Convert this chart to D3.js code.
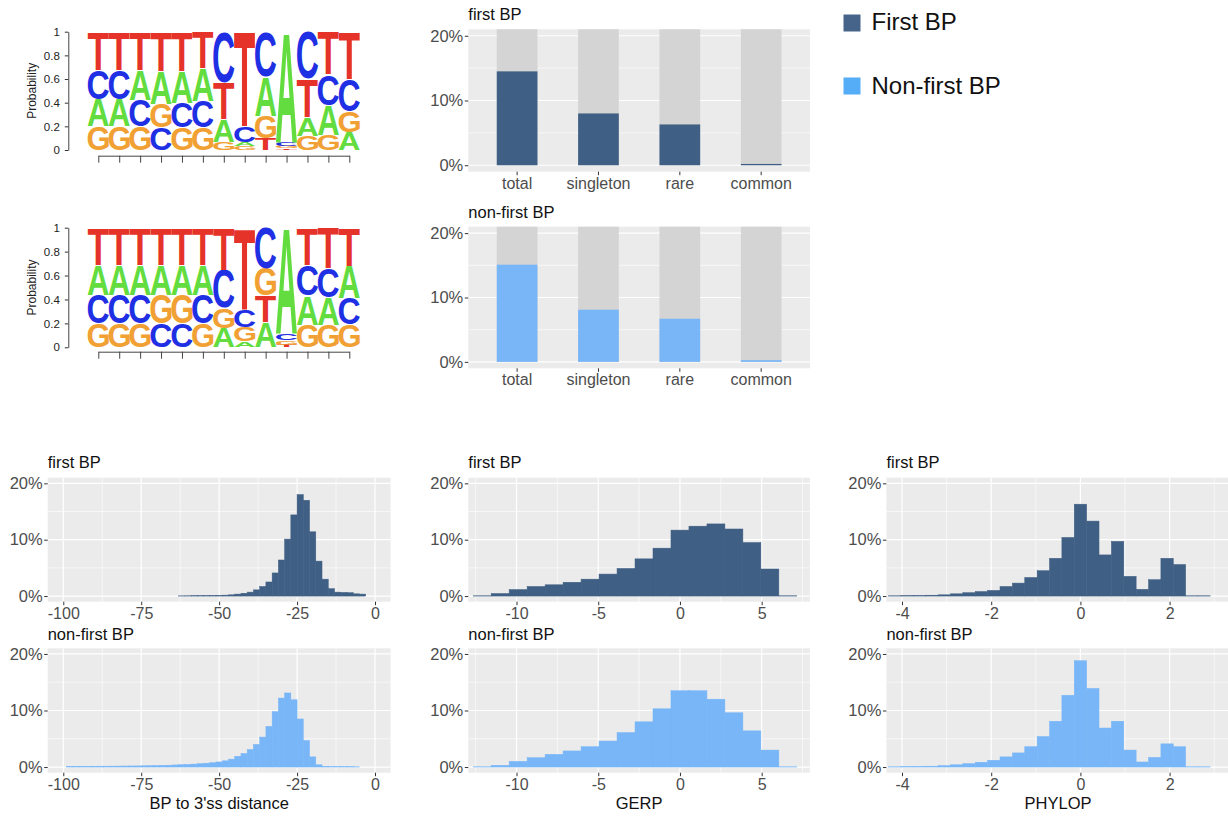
<!DOCTYPE html>
<html>
<head>
<meta charset="utf-8">
<script src="https://cdn.jsdelivr.net/npm/d3@7"></script>
<style>
  html, body { margin: 0; padding: 0; background: #ffffff; }
  svg { display: block; }
</style>
</head>
<body>
<svg id="fig" width="1228" height="817"></svg>
<script>
// ---------------------------------------------------------------
// Data
// ---------------------------------------------------------------
const nucleotides = ["A", "C", "G", "T"];
const logoPositions = [1, 2, 3, 4, 5, 6, 7, 8, 9, 10, 11, 12, 13];
const logoTicks = [0, 0.2, 0.4, 0.6, 0.8, 1];

// position probability matrix, first BP
const firstLogoA = [0.23, 0.23, 0.26, 0.28, 0.27, 0.28, 0.19, 0.04, 0.33, 0.93, 0.16, 0.25, 0.15];
const firstLogoC = [0.25, 0.25, 0.22, 0.19, 0.21, 0.22, 0.43, 0.13, 0.38, 0.035, 0.40, 0.26, 0.27];
const firstLogoG = [0.20, 0.20, 0.20, 0.20, 0.19, 0.19, 0.07, 0.03, 0.19, 0.02, 0.12, 0.13, 0.18];
const firstLogoT = [0.32, 0.32, 0.32, 0.33, 0.33, 0.31, 0.31, 0.80, 0.10, 0.015, 0.32, 0.36, 0.40];

// position probability matrix, non-first BP
const nonFirstLogoA = [0.25, 0.25, 0.25, 0.25, 0.25, 0.25, 0.16, 0.05, 0.21, 0.88, 0.24, 0.23, 0.27];
const nonFirstLogoC = [0.24, 0.24, 0.24, 0.20, 0.20, 0.24, 0.32, 0.15, 0.34, 0.06, 0.26, 0.24, 0.22];
const nonFirstLogoG = [0.20, 0.20, 0.20, 0.24, 0.24, 0.20, 0.17, 0.12, 0.23, 0.04, 0.19, 0.19, 0.19];
const nonFirstLogoT = [0.31, 0.31, 0.31, 0.31, 0.31, 0.31, 0.35, 0.68, 0.22, 0.02, 0.31, 0.34, 0.32];

// variant share per class (%)
const variantClasses = ["total", "singleton", "rare", "common"];
const firstBpShare = [14.5, 8.0, 6.3, 0.2];
const nonFirstBpShare = [15.1, 8.1, 6.7, 0.26];
const shareTrack = [21, 21, 21, 21];
const shareTicks = [0, 10, 20];

// BP to 3'ss distance histograms (% per bin)
const distBinStart = -99, distBinWidth = 2;
const distTicks = [-100, -75, -50, -25, 0];
const distFirst = [
  0, 0, 0, 0, 0, 0, 0, 0, 0, 0, 0, 0, 0, 0, 0, 0, 0, 0,
  0.04, 0.05, 0.06, 0.07, 0.09, 0.1, 0.12, 0.16, 0.22, 0.35,
  0.5, 0.7, 1.1, 1.7, 2.5, 4.1, 6.4, 10.1, 14.4, 18.0,
  17.0, 11.4, 6.2, 3.0, 1.3, 0.7, 0.65, 0.6, 0.4, 0.35
];
const distNonFirst = [
  0.12, 0.12, 0.13, 0.13, 0.14, 0.15, 0.15, 0.16, 0.17, 0.18,
  0.19, 0.2, 0.22, 0.24, 0.27, 0.3, 0.33, 0.37, 0.42, 0.47,
  0.52, 0.6, 0.68, 0.78, 0.9, 1.1, 1.4, 1.9, 2.4, 3.1,
  4.0, 5.3, 7.2, 9.8, 12.2, 13.1, 11.9, 8.5, 4.7, 1.8,
  0.4, 0.12, 0.07, 0.07, 0.06, 0.06, 0.05, 0
];

// GERP histograms (% per bin)
const gerpBinStart = -12.65, gerpBinWidth = 1.1;
const gerpTicks = [-10, -5, 0, 5];
const gerpFirst = [0.05, 0.45, 1.15, 1.7, 2.0, 2.45, 3.0, 3.9, 4.9, 6.6, 8.5, 11.7, 12.4, 12.8, 11.9, 9.5, 4.8, 0.05];
const gerpNonFirst = [0.05, 0.3, 1.0, 1.65, 2.25, 2.85, 3.6, 4.6, 6.1, 8.0, 10.3, 13.5, 13.5, 12.0, 9.6, 6.4, 3.0, 0.05];

// PHYLOP histograms (% per bin)
const phylopBinStart = -4.30, phylopBinWidth = 0.2775;
const phylopTicks = [-4, -2, 0, 2];
const phylopFirst = [0.05, 0.08, 0.1, 0.15, 0.22, 0.4, 0.6, 0.8, 1.0, 1.7, 2.3, 3.3, 4.5, 6.7, 10.4, 16.3, 13.3, 7.3, 9.7, 3.5, 1.2, 2.9, 6.7, 5.6, 0.05, 0.05];
const phylopNonFirst = [0.05, 0.08, 0.1, 0.15, 0.25, 0.4, 0.6, 0.85, 1.2, 1.8, 2.5, 3.6, 5.4, 8.1, 12.7, 18.8, 13.9, 6.9, 8.1, 3.0, 0.9, 1.7, 4.1, 3.6, 0.05, 0.05];

const percentTicks = [0, 10, 20];

// ---------------------------------------------------------------
// Styling
// ---------------------------------------------------------------
const FONT = "'Liberation Sans', Arial, Helvetica, sans-serif";
const darkFill = "#3f5f84";
const lightFill = "#78b6f7";
const panelBg = "#ebebeb";
const trackFill = "#d4d4d4";
const tickColor = "#333333";
const tickTextColor = "#4d4d4d";
const titleSize = 16.5;
const nucleotideColor = { A: "#62dc3e", C: "#1f2fe3", G: "#f1a034", T: "#e5332a" };
const shareDomain = [-1, 21];

const svg = d3.select("#fig");

function styleAxis(g, fontSize, keepDomain) {
  g.attr("font-family", FONT).attr("font-size", fontSize);
  if (!keepDomain) g.select(".domain").remove();
  g.selectAll(".tick line").attr("stroke", tickColor).attr("stroke-width", 1);
  g.selectAll(".tick text").attr("fill", tickTextColor);
}

function minorBetween(majors, domain) {
  const step = majors[1] - majors[0];
  const out = [];
  for (let v = majors[0] - step / 2; v <= majors[majors.length - 1] + step; v += step) {
    if (v >= Math.min(...domain) && v <= Math.max(...domain)) out.push(v);
  }
  return out;
}

// ---------------------------------------------------------------
// Sequence logos
// ---------------------------------------------------------------
const measureCtx = document.createElement("canvas").getContext("2d");
measureCtx.font = "bold 100px 'Liberation Sans'";
const glyphInk = {};
nucleotides.forEach(n => {
  const m = measureCtx.measureText(n);
  glyphInk[n] = {
    l: -m.actualBoundingBoxLeft,
    r: m.actualBoundingBoxRight,
    t: -m.actualBoundingBoxAscent,
    b: m.actualBoundingBoxDescent
  };
});

function drawLogo(probs, box) {
  const g = svg.append("g");
  const x = d3.scaleLinear().domain([1, 13]).range([box.xFirst, box.xLast]);
  const colW = x(2) - x(1);
  const y = d3.scaleLinear().domain([0, 1]).range([box.yZero, box.yOne]);

  logoPositions.forEach((pos, i) => {
    const stack = nucleotides
      .map(n => ({ n, p: probs[n][i] }))
      .sort((a, b) => a.p - b.p);
    let cum = 0;
    stack.forEach(s => {
      const yb = y(cum);
      let yt = y(cum + s.p);
      cum += s.p;
      if (yb - yt > 1.2) yt += 0.35;
      const h = Math.max(yb - yt, 0.4);
      const w = colW + 0.2;
      const ink = glyphInk[s.n];
      const sx = w / (ink.r - ink.l);
      const sy = h / (ink.b - ink.t);
      const tx = x(pos) - w / 2 - ink.l * sx;
      const ty = (yb - h) - ink.t * sy;
      g.append("text")
        .attr("x", 0).attr("y", 0)
        .attr("transform", `translate(${tx},${ty}) scale(${sx},${sy})`)
        .attr("font-family", "'Liberation Sans'")
        .attr("font-weight", "bold")
        .attr("font-size", 100)
        .attr("fill", nucleotideColor[s.n])
        .text(s.n);
    });
  });

  const yAxis = g.append("g")
    .attr("transform", `translate(${box.yAxisX},0)`)
    .call(d3.axisLeft(y).tickValues(logoTicks).tickFormat(d3.format("~g")).tickSize(3.5).tickPadding(5).tickSizeOuter(0));
  styleAxis(yAxis, 11.5, true);
  yAxis.select(".domain").attr("stroke", "#444");
  yAxis.selectAll(".tick text").attr("fill", "#222");

  const xAxis = g.append("g")
    .attr("transform", `translate(0,${box.xAxisY})`)
    .call(d3.axisBottom(x).tickValues(logoPositions).tickFormat("").tickSize(7).tickSizeOuter(0));
  styleAxis(xAxis, 11.5, true);
  xAxis.select(".domain").attr("stroke", "#444");
  xAxis.selectAll(".tick line").attr("stroke", "#444");

  g.append("text")
    .attr("transform", `translate(${box.labelX},${(box.yZero + box.yOne) / 2}) rotate(-90)`)
    .attr("text-anchor", "middle")
    .attr("font-family", FONT)
    .attr("font-size", 12)
    .attr("fill", "#222")
    .text("Probability");
}

drawLogo(
  { A: firstLogoA, C: firstLogoC, G: firstLogoG, T: firstLogoT },
  { xFirst: 98.3, xLast: 349.3, yZero: 150, yOne: 31.7, yAxisX: 68.3, xAxisY: 155.7, labelX: 36 }
);
drawLogo(
  { A: nonFirstLogoA, C: nonFirstLogoC, G: nonFirstLogoG, T: nonFirstLogoT },
  { xFirst: 98.3, xLast: 349.3, yZero: 347.3, yOne: 227.7, yAxisX: 68.3, xAxisY: 351.7, labelX: 36 }
);

// ---------------------------------------------------------------
// Variant share bar panels
// ---------------------------------------------------------------
function drawSharePanel(box, shares, fill, title, titleBaseline) {
  const g = svg.append("g");
  const x = d3.scaleBand().domain(variantClasses).range([box.x0, box.x1])
    .paddingInner(0.5).paddingOuter(0.35);
  const y = d3.scaleLinear().domain(shareDomain).range([box.y1, box.y0]);

  g.append("rect")
    .attr("x", box.x0).attr("y", box.y0)
    .attr("width", box.x1 - box.x0).attr("height", box.y1 - box.y0)
    .attr("fill", panelBg);

  g.selectAll("line.minor").data(minorBetween(shareTicks, shareDomain)).join("line")
    .attr("class", "minor")
    .attr("x1", box.x0).attr("x2", box.x1)
    .attr("y1", d => y(d)).attr("y2", d => y(d))
    .attr("stroke", "#fff").attr("stroke-width", 0.6);
  g.selectAll("line.major").data(shareTicks).join("line")
    .attr("class", "major")
    .attr("x1", box.x0).attr("x2", box.x1)
    .attr("y1", d => y(d)).attr("y2", d => y(d))
    .attr("stroke", "#fff").attr("stroke-width", 1.2);

  g.selectAll("rect.track").data(variantClasses).join("rect")
    .attr("class", "track")
    .attr("x", d => x(d)).attr("width", x.bandwidth())
    .attr("y", (d, i) => y(shareTrack[i]))
    .attr("height", (d, i) => y(0) - y(shareTrack[i]))
    .attr("fill", trackFill);

  g.selectAll("rect.share").data(variantClasses).join("rect")
    .attr("class", "share")
    .attr("x", d => x(d)).attr("width", x.bandwidth())
    .attr("y", (d, i) => y(shares[i]))
    .attr("height", (d, i) => Math.max(y(0) - y(shares[i]), 0.8))
    .attr("fill", fill);

  const xAxis = g.append("g")
    .attr("transform", `translate(0,${box.y1})`)
    .call(d3.axisBottom(x).tickSize(3.5).tickPadding(2));
  styleAxis(xAxis, 16);

  const yAxis = g.append("g")
    .attr("transform", `translate(${box.x0},0)`)
    .call(d3.axisLeft(y).tickValues(shareTicks).tickFormat(d => d + "%").tickSize(3.5).tickPadding(1.5));
  styleAxis(yAxis, 16.5);

  g.append("text")
    .attr("x", box.x0).attr("y", titleBaseline)
    .attr("font-family", FONT).attr("font-size", titleSize).attr("fill", "#111")
    .text(title);
}

drawSharePanel({ x0: 468.3, x1: 810, y0: 29.3, y1: 171.7 }, firstBpShare, darkFill, "first BP", 20);
drawSharePanel({ x0: 468.3, x1: 810, y0: 226.7, y1: 368.3 }, nonFirstBpShare, lightFill, "non-first BP", 218.3);

// ---------------------------------------------------------------
// Legend
// ---------------------------------------------------------------
const legendItems = [
  { label: "First BP", fill: "#46648a", y: 14.5, baseline: 30 },
  { label: "Non-first BP", fill: "#55acf7", y: 77.5, baseline: 93.5 }
];
const legend = svg.append("g");
legendItems.forEach(it => {
  legend.append("rect")
    .attr("x", 843.5).attr("y", it.y).attr("width", 17).attr("height", 17)
    .attr("fill", it.fill);
  legend.append("text")
    .attr("x", 871.5).attr("y", it.baseline)
    .attr("font-family", FONT).attr("font-size", 24).attr("fill", "#111")
    .text(it.label);
});

// ---------------------------------------------------------------
// Histograms
// ---------------------------------------------------------------
function drawHistogram(box, xDomain, ticks, binStart, binWidth, values, fill, title, titleBaseline, axisTitle) {
  const g = svg.append("g");
  const x = d3.scaleLinear().domain(xDomain).range([box.x0, box.x1]);
  const y = d3.scaleLinear().domain(shareDomain).range([box.y1, box.y0]);
  const px0 = Math.max(box.x0, 0);

  g.append("rect")
    .attr("x", px0).attr("y", box.y0)
    .attr("width", box.x1 - px0).attr("height", box.y1 - box.y0)
    .attr("fill", panelBg);

  const grid = g.append("g");
  grid.selectAll("line.xminor").data(minorBetween(ticks, xDomain)).join("line")
    .attr("x1", d => x(d)).attr("x2", d => x(d))
    .attr("y1", box.y0).attr("y2", box.y1)
    .attr("stroke", "#fff").attr("stroke-width", 0.6);
  grid.selectAll("line.yminor").data(minorBetween(percentTicks, shareDomain)).join("line")
    .attr("x1", box.x0).attr("x2", box.x1)
    .attr("y1", d => y(d)).attr("y2", d => y(d))
    .attr("stroke", "#fff").attr("stroke-width", 0.6);
  grid.selectAll("line.xmajor").data(ticks).join("line")
    .attr("x1", d => x(d)).attr("x2", d => x(d))
    .attr("y1", box.y0).attr("y2", box.y1)
    .attr("stroke", "#fff").attr("stroke-width", 1.2);
  grid.selectAll("line.ymajor").data(percentTicks).join("line")
    .attr("x1", box.x0).attr("x2", box.x1)
    .attr("y1", d => y(d)).attr("y2", d => y(d))
    .attr("stroke", "#fff").attr("stroke-width", 1.2);

  const bins = values.map((v, i) => ({ lo: binStart + i * binWidth, hi: binStart + (i + 1) * binWidth, v }))
    .filter(b => b.v > 0);
  g.selectAll("rect.bin").data(bins).join("rect")
    .attr("x", d => x(d.lo))
    .attr("width", d => x(d.hi) - x(d.lo))
    .attr("y", d => y(d.v))
    .attr("height", d => y(0) - y(d.v))
    .attr("fill", fill)
    .attr("stroke", fill)
    .attr("stroke-width", 0.5);

  const xAxis = g.append("g")
    .attr("transform", `translate(0,${box.y1})`)
    .call(d3.axisBottom(x).tickValues(ticks).tickFormat(d => d).tickSize(3.5).tickPadding(2));
  styleAxis(xAxis, 16);

  const yAxis = g.append("g")
    .attr("transform", `translate(${box.x0},0)`)
    .call(d3.axisLeft(y).tickValues(percentTicks).tickFormat(d => d + "%").tickSize(3.5).tickPadding(1.5));
  styleAxis(yAxis, 16.5);

  g.append("text")
    .attr("x", box.x0).attr("y", titleBaseline)
    .attr("font-family", FONT).attr("font-size", titleSize).attr("fill", "#111")
    .text(title);

  if (axisTitle) {
    g.append("text")
      .attr("x", (box.x0 + box.x1) / 2).attr("y", box.y1 + 35.8)
      .attr("text-anchor", "middle")
      .attr("font-family", FONT).attr("font-size", 16.5).attr("fill", "#111")
      .text(axisTitle);
  }
}

const rowTop = { y0: 477.7, y1: 601.7, title: 468 };
const rowBottom = { y0: 648.3, y1: 772.7, title: 640 };
const colDist = { x0: 47.7, x1: 390.6, domain: [-105, 5] };
const colGerp = { x0: 468.3, x1: 809.9, domain: [-12.95, 7.95] };
const colPhylop = { x0: 886.4, x1: 1229.8, domain: [-4.35, 3.35] };

drawHistogram({ ...colDist, ...rowTop }, colDist.domain, distTicks, distBinStart, distBinWidth, distFirst, darkFill, "first BP", rowTop.title, null);
drawHistogram({ ...colDist, ...rowBottom }, colDist.domain, distTicks, distBinStart, distBinWidth, distNonFirst, lightFill, "non-first BP", rowBottom.title, "BP to 3'ss distance");
drawHistogram({ ...colGerp, ...rowTop }, colGerp.domain, gerpTicks, gerpBinStart, gerpBinWidth, gerpFirst, darkFill, "first BP", rowTop.title, null);
drawHistogram({ ...colGerp, ...rowBottom }, colGerp.domain, gerpTicks, gerpBinStart, gerpBinWidth, gerpNonFirst, lightFill, "non-first BP", rowBottom.title, "GERP");
drawHistogram({ ...colPhylop, ...rowTop }, colPhylop.domain, phylopTicks, phylopBinStart, phylopBinWidth, phylopFirst, darkFill, "first BP", rowTop.title, null);
drawHistogram({ ...colPhylop, ...rowBottom }, colPhylop.domain, phylopTicks, phylopBinStart, phylopBinWidth, phylopNonFirst, lightFill, "non-first BP", rowBottom.title, "PHYLOP");
</script>
</body>
</html>
